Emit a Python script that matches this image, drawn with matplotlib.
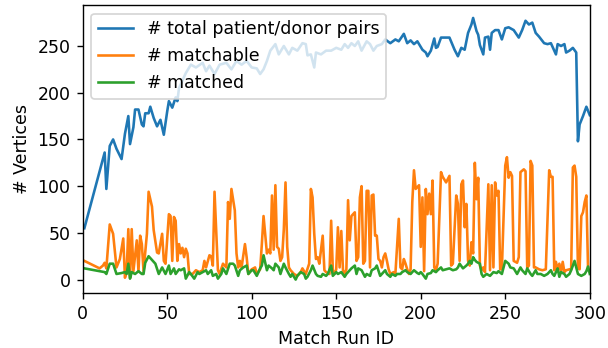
import matplotlib
matplotlib.use("Agg")
import matplotlib.pyplot as plt

# total patient/donor pairs per match run
total_ids = [1, 13, 14, 16, 18, 20, 23, 25, 27, 28,
             30, 31, 33, 35, 36, 37, 39, 40, 42, 44,
             46, 48, 50, 51, 53, 55, 56, 57, 59, 61,
             64, 67, 71, 73, 75, 78, 81, 85, 88, 91,
             94, 97, 100, 103, 105, 107, 109, 111, 114, 116,
             119, 122, 124, 127, 130, 132, 133, 135, 137, 138,
             141, 144, 147, 150, 153, 155, 157, 159, 161, 163,
             165, 168, 170, 172, 174, 177, 179, 182, 185, 187,
             190, 192, 194, 196, 198, 201, 203, 204, 206, 208,
             209, 210, 212, 217, 220, 222, 224, 226, 228, 230,
             231, 233, 234, 235, 237, 238, 240, 241, 242, 244,
             246, 248, 250, 252, 255, 258, 260, 262, 264, 266,
             268, 270, 273, 275, 277, 279, 280, 281, 283, 285,
             286, 288, 290, 292, 293, 294, 296, 298, 300]
total_pairs = [55, 136, 97, 143, 150, 140, 129, 156, 175, 145,
               163, 182, 182, 166, 164, 178, 178, 185, 173, 164,
               171, 155, 180, 191, 184, 195, 191, 205, 213, 221,
               230, 227, 232, 223, 229, 220, 230, 232, 225, 234,
               230, 234, 227, 226, 220, 225, 234, 245, 252, 241,
               250, 241, 248, 245, 253, 252, 240, 241, 227, 243,
               241, 245, 245, 248, 246, 252, 248, 253, 250, 255,
               245, 255, 252, 245, 250, 252, 257, 253, 257, 255,
               263, 253, 256, 252, 255, 246, 243, 239, 245, 258,
               248, 249, 259, 259, 246, 239, 248, 246, 264, 273,
               280, 266, 262, 251, 241, 259, 260, 246, 264, 267,
               267, 257, 269, 270, 267, 259, 267, 277, 273, 275,
               264, 260, 253, 252, 253, 245, 241, 252, 250, 252,
               243, 245, 248, 243, 148, 166, 175, 185, 176]

# matchable vertices
matchable_ids = [1, 10, 12, 13, 14, 16, 18, 20, 22, 24,
                 25, 26, 27, 28, 29, 30, 32, 33, 34, 35,
                 36, 38, 39, 41, 42, 44, 45, 47, 48, 49,
                 51, 52, 53, 54, 55, 56, 57, 58, 59, 60,
                 61, 62, 63, 65, 67, 69, 71, 72, 73, 75,
                 76, 77, 78, 80, 81, 83, 85, 86, 87, 88,
                 90, 91, 92, 93, 94, 96, 97, 98, 100, 102,
                 103, 105, 106, 107, 109, 110, 111, 112, 113, 114,
                 115, 116, 117, 118, 119, 120, 121, 122, 123, 125,
                 127, 129, 130, 132, 134, 135, 136, 137, 138, 139,
                 140, 142, 143, 144, 146, 147, 148, 149, 150, 151,
                 152, 153, 154, 155, 156, 157, 158, 159, 160, 161,
                 162, 163, 164, 165, 166, 167, 168, 169, 170, 171,
                 172, 173, 174, 175, 176, 177, 178, 179, 180, 181,
                 182, 184, 185, 187, 188, 189, 190, 191, 192, 193,
                 194, 195, 196, 197, 198, 199, 200, 201, 202, 203,
                 204, 205, 206, 207, 208, 209, 210, 212, 213, 215,
                 217, 218, 219, 221, 222, 223, 224, 225, 226, 227,
                 228, 229, 230, 231, 232, 233, 234, 235, 236, 237,
                 238, 240, 241, 242, 243, 244, 245, 246, 247, 248,
                 250, 251, 252, 253, 254, 255, 257, 258, 259, 261,
                 262, 263, 264, 265, 266, 267, 268, 270, 272, 274,
                 276, 277, 278, 279, 280, 281, 282, 283, 284, 285,
                 286, 288, 289, 290, 291, 292, 293, 294, 295, 296,
                 297, 298, 299, 300]
matchable = [20, 12, 15, 18, 12, 59, 49, 13, 22, 44,
             2, 8, 54, 2, 54, 9, 42, 9, 47, 38,
             9, 49, 94, 78, 53, 29, 28, 49, 20, 17,
             70, 68, 20, 67, 63, 20, 38, 28, 34, 24,
             33, 28, 6, 6, 10, 8, 10, 20, 13, 26,
             25, 15, 94, 10, 6, 17, 13, 83, 65, 97,
             74, 28, 13, 20, 13, 38, 24, 6, 11, 13,
             6, 11, 38, 68, 28, 32, 28, 90, 32, 101,
             35, 33, 20, 24, 54, 104, 35, 13, 10, 6,
             4, 8, 12, 6, 17, 97, 88, 49, 22, 24,
             17, 47, 10, 8, 6, 63, 10, 6, 11, 56,
             13, 52, 10, 6, 11, 85, 42, 68, 70, 72,
             20, 24, 88, 100, 17, 20, 95, 95, 13, 90,
             91, 47, 47, 22, 20, 13, 24, 28, 20, 11,
             6, 8, 6, 65, 13, 11, 22, 17, 11, 6,
             11, 83, 117, 97, 99, 101, 35, 88, 9, 97,
             70, 92, 70, 106, 13, 10, 17, 115, 110, 104,
             111, 15, 17, 90, 81, 20, 102, 106, 56, 81,
             20, 15, 40, 28, 125, 86, 109, 15, 10, 13,
             8, 102, 10, 101, 13, 104, 90, 95, 11, 11,
             122, 131, 109, 115, 111, 20, 18, 24, 115, 118,
             116, 13, 15, 127, 122, 13, 13, 11, 10, 11,
             117, 110, 110, 10, 19, 10, 17, 8, 19, 8,
             10, 11, 11, 120, 122, 110, 13, 11, 68, 72,
             83, 90, 11, 9]

# matched vertices
matched_ids = [1, 13, 14, 16, 18, 20, 23, 25, 26, 27,
               28, 29, 31, 33, 35, 36, 37, 39, 41, 43,
               45, 47, 49, 51, 52, 54, 55, 57, 58, 60,
               61, 63, 64, 66, 68, 69, 71, 73, 74, 76,
               77, 79, 80, 82, 83, 85, 87, 89, 90, 92,
               93, 95, 97, 98, 100, 101, 103, 105, 106, 107,
               109, 110, 112, 113, 114, 116, 117, 119, 120, 122,
               123, 124, 126, 127, 129, 131, 132, 133, 135, 136,
               138, 139, 141, 142, 144, 145, 147, 148, 150, 151,
               153, 155, 156, 158, 159, 161, 162, 163, 165, 167,
               168, 170, 171, 173, 174, 176, 177, 179, 180, 182,
               183, 185, 186, 188, 189, 191, 192, 194, 196, 198,
               199, 200, 201, 203, 204, 206, 207, 209, 210, 212,
               213, 215, 217, 219, 221, 222, 223, 225, 227, 228,
               229, 230, 231, 232, 233, 235, 236, 237, 239, 241,
               242, 243, 245, 246, 248, 249, 250, 252, 253, 255,
               257, 259, 260, 262, 263, 265, 266, 268, 269, 271,
               273, 275, 277, 278, 279, 281, 282, 283, 285, 286,
               288, 289, 291, 292, 293, 295, 297, 298, 299, 300]
matched = [12, 8, 6, 17, 17, 6, 7, 8, 6, 17,
           1, 8, 6, 9, 6, 6, 18, 25, 21, 17,
           6, 13, 6, 15, 6, 12, 6, 11, 10, 12,
           1, 8, 6, 1, 8, 6, 8, 10, 6, 10,
           4, 6, 1, 6, 12, 6, 17, 17, 15, 4,
           10, 13, 15, 6, 10, 10, 4, 12, 15, 26,
           10, 15, 12, 10, 17, 13, 6, 17, 13, 6,
           3, 6, 0, 4, 8, 6, 1, 3, 10, 15,
           6, 4, 3, 6, 4, 6, 15, 4, 8, 6,
           8, 3, 6, 10, 12, 15, 6, 12, 10, 3,
           6, 4, 10, 12, 15, 4, 6, 10, 6, 3,
           6, 4, 6, 6, 8, 10, 8, 6, 10, 7,
           6, 8, 6, 1, 6, 7, 10, 8, 10, 13,
           10, 11, 12, 10, 11, 13, 17, 12, 15, 17,
           20, 17, 24, 21, 19, 17, 6, 3, 6, 4,
           6, 8, 7, 9, 6, 13, 20, 17, 13, 12,
           6, 13, 10, 6, 12, 6, 4, 10, 6, 6,
           4, 6, 10, 6, 4, 12, 3, 8, 6, 3,
           6, 10, 20, 13, 6, 4, 6, 9, 14, 6]

fig, ax = plt.subplots(figsize=(4.864, 2.784), dpi=125)
fig.subplots_adjust(left=0.136, right=0.970, top=0.986, bottom=0.159)

ax.plot(total_ids, total_pairs, label="# total patient/donor pairs")
ax.plot(matchable_ids, matchable, label="# matchable")
ax.plot(matched_ids, matched, label="# matched")

ax.set_xlim(0, 300)
ax.set_xlabel("Match Run ID")
ax.set_ylabel("# Vertices")
ax.legend(loc="upper left")

fig.savefig("out.png", dpi=125)
